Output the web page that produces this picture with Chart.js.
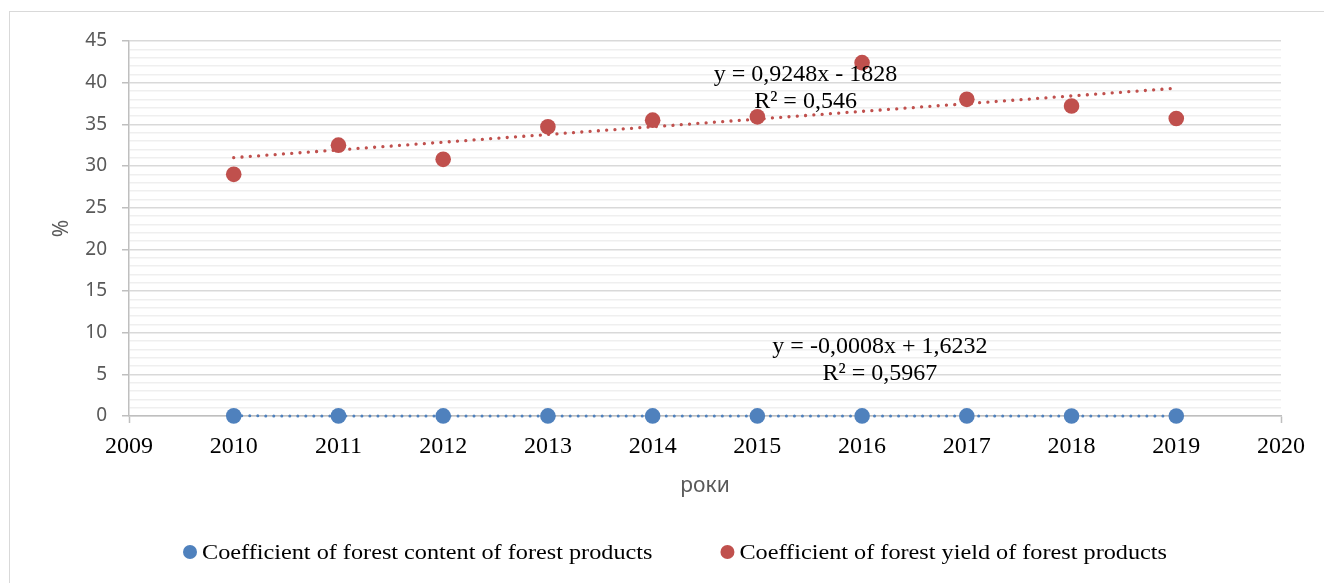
<!DOCTYPE html>
<html>
<head>
<meta charset="utf-8">
<script src="https://cdn.jsdelivr.net/npm/chart.js@4.4.1/dist/chart.umd.min.js"></script>
<style>
  html, body { margin: 0; padding: 0; background: #fff; overflow: hidden; }
  #frame { position: absolute; left: 9px; top: 11px; width: 1400px; height: 700px;
           border: 1px solid #d9d9d9; box-sizing: border-box; }
  #wrap { position: absolute; left: 0; top: 0; width: 1324px; height: 583px; }
</style>
</head>
<body>
<div id="frame"></div>
<div id="wrap"><canvas id="chart" width="1324" height="583"></canvas></div>
<script>
// Years of observation
const years = [2010, 2011, 2012, 2013, 2014, 2015, 2016, 2017, 2018, 2019];
// Coefficient of forest content of forest products, %
const forestContent = [0.016, 0.014, 0.013, 0.013, 0.012, 0.011, 0.011, 0.010, 0.009, 0.008];
// Coefficient of forest yield of forest products, %
const forestYield = [29.0, 32.5, 30.8, 34.7, 35.5, 35.9, 42.4, 38.0, 37.2, 35.7];

const seriesNames = [
  'Coefficient of forest content of forest products',
  'Coefficient of forest yield of forest products'
];
const xTickLabels = [2009, 2010, 2011, 2012, 2013, 2014, 2015, 2016, 2017, 2018, 2019, 2020];
const yTickLabels = [0, 5, 10, 15, 20, 25, 30, 35, 40, 45];
const contentTrendText = ['y = -0,0008x + 1,6232', 'R² = 0,5967'];
const yieldTrendText = ['y = 0,9248x - 1828', 'R² = 0,546'];

const BLUE = '#4f81bd';
const RED = '#c0504d';

// Ordinary least-squares line through the series, drawn over its x range
function trendLine(xs, ys) {
  const n = xs.length;
  const mx = xs.reduce((a, b) => a + b, 0) / n;
  const my = ys.reduce((a, b) => a + b, 0) / n;
  let sxy = 0, sxx = 0;
  for (let i = 0; i < n; i++) {
    sxy += (xs[i] - mx) * (ys[i] - my);
    sxx += (xs[i] - mx) * (xs[i] - mx);
  }
  const slope = sxy / sxx;
  const at = x => my + slope * (x - mx);
  return [{ x: xs[0], y: at(xs[0]) }, { x: xs[n - 1], y: at(xs[n - 1]) }];
}

const toPoints = (xs, ys) => xs.map((x, i) => ({ x, y: ys[i] }));

// Trend equations written next to their lines
const equationPlugin = {
  id: 'equations',
  afterDatasetsDraw(chart, args, opts) {
    const { ctx, scales: { x, y } } = chart;
    ctx.save();
    ctx.font = '24px "Liberation Serif"';
    ctx.fillStyle = '#000';
    ctx.textAlign = 'center';
    ctx.textBaseline = 'middle';
    opts.items.forEach(it => {
      const px = x.getPixelForValue(it.x);
      const py = y.getPixelForValue(it.y);
      it.lines.forEach((t, i) => ctx.fillText(t, px, py + i * 27));
    });
    ctx.restore();
  }
};

// Legend row with round markers under the plot
const legendRowPlugin = {
  id: 'legendRow',
  afterDraw(chart, args, opts) {
    const { ctx } = chart;
    const items = chart.data.datasets.filter(d => d.inLegend);
    ctx.save();
    ctx.font = '21px "Liberation Serif"';
    ctx.textBaseline = 'middle';
    const sx = opts.stretch;
    const r = 7, textGap = 5, itemGap = 68;
    const widths = items.map(d => ctx.measureText(d.label).width * sx);
    const total = widths.reduce((a, w) => a + 2 * r + textGap + w, 0) + itemGap * (items.length - 1);
    let cx = opts.centerX - total / 2;
    items.forEach((d, i) => {
      ctx.fillStyle = d.backgroundColor;
      ctx.beginPath();
      ctx.arc(cx + r, opts.y, r, 0, Math.PI * 2);
      ctx.fill();
      ctx.fillStyle = '#000';
      ctx.save();
      ctx.translate(cx + 2 * r + textGap, opts.y + 1);
      ctx.scale(sx, 1);
      ctx.fillText(d.label, 0, 0);
      ctx.restore();
      cx += 2 * r + textGap + widths[i] + itemGap;
    });
    ctx.restore();
  }
};

const isMajor = v => yTickLabels.includes(v);

new Chart(document.getElementById('chart'), {
  type: 'scatter',
  data: {
    datasets: [
      {
        label: seriesNames[0],
        inLegend: true,
        data: toPoints(years, forestContent),
        backgroundColor: BLUE,
        borderColor: BLUE,
        pointRadius: 7.8,
        pointBorderWidth: 0,
        clip: false
      },
      {
        label: seriesNames[1],
        inLegend: true,
        data: toPoints(years, forestYield),
        backgroundColor: RED,
        borderColor: RED,
        pointRadius: 7.8,
        pointBorderWidth: 0
      },
      {
        label: 'trend content',
        data: trendLine(years, forestContent),
        showLine: true,
        pointRadius: 0,
        borderColor: BLUE,
        borderWidth: 3,
        borderDash: [0.01, 8],
        borderCapStyle: 'round',
        clip: false
      },
      {
        label: 'trend yield',
        data: trendLine(years, forestYield),
        showLine: true,
        pointRadius: 0,
        borderColor: RED,
        borderWidth: 3.3,
        borderDash: [0.01, 8.3],
        borderCapStyle: 'round'
      }
    ]
  },
  options: {
    responsive: false,
    animation: false,
    events: [],
    layout: { padding: { left: 0, top: 41, right: 43, bottom: 80 } },
    scales: {
      x: {
        type: 'linear',
        min: xTickLabels[0],
        max: xTickLabels[xTickLabels.length - 1],
        afterFit(s) { s.height = 87; },
        afterBuildTicks(s) { s.ticks = xTickLabels.map(v => ({ value: v })); },
        ticks: {
          autoSkip: false,
          maxRotation: 0,
          padding: 9,
          color: '#000',
          font: { family: '"Liberation Serif"', size: 24 },
          callback: v => String(v)
        },
        grid: {
          drawOnChartArea: false,
          drawTicks: true,
          tickLength: 7,
          tickWidth: 1.5,
          tickColor: c => (c.tick && (c.tick.value === xTickLabels[0] || c.tick.value === xTickLabels[xTickLabels.length - 1])) ? '#bfbfbf' : 'rgba(0,0,0,0)'
        },
        border: { display: true, color: '#bfbfbf', width: 1.5 },
        title: {
          display: true,
          text: 'роки',
          color: '#595959',
          font: { family: '"Noto Sans"', size: 21 },
          padding: { top: 0, bottom: 4 }
        }
      },
      y: {
        type: 'linear',
        min: yTickLabels[0],
        max: yTickLabels[yTickLabels.length - 1],
        afterFit(s) { s.width = 129; },
        ticks: {
          stepSize: 1,
          maxTicksLimit: 100,
          autoSkip: false,
          padding: 15,
          color: '#595959',
          font: { family: '"Noto Sans"', size: 19 },
          callback: v => (isMajor(v) ? String(v) : '')
        },
        grid: {
          color: c => (c.tick && isMajor(c.tick.value)) ? '#d9d9d9' : '#efefef',
          lineWidth: c => (c.tick && isMajor(c.tick.value)) ? 1.5 : 1.6,
          drawTicks: true,
          tickLength: 7,
          tickWidth: 1.5,
          tickColor: c => (c.tick && isMajor(c.tick.value)) ? '#bfbfbf' : 'rgba(0,0,0,0)'
        },
        border: { display: true, color: '#bfbfbf', width: 1.5 },
        title: {
          display: true,
          text: '%',
          color: '#595959',
          font: { family: '"Noto Sans"', size: 21 },
          padding: { top: 49, bottom: 0 }
        }
      }
    },
    plugins: {
      legend: { display: false },
      tooltip: { enabled: false },
      equations: {
        items: [
          { x: 2015.46, y: 40.9, lines: yieldTrendText },
          { x: 2016.17, y: 8.28, lines: contentTrendText }
        ]
      },
      legendRow: { centerX: 675, y: 552, stretch: 1.154 }
    }
  },
  plugins: [equationPlugin, legendRowPlugin]
});
</script>
</body>
</html>
